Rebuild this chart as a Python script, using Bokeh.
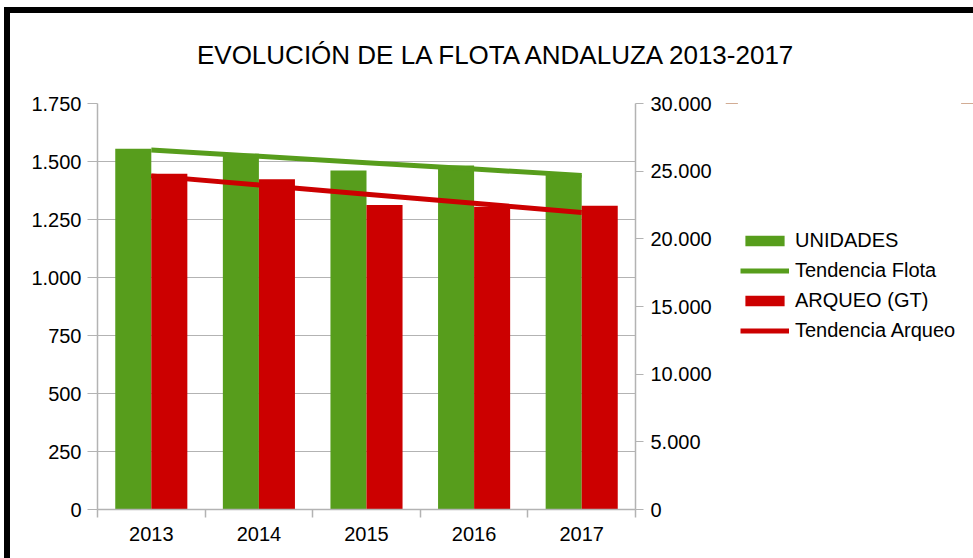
import numpy as np
from bokeh.plotting import figure
from bokeh.layouts import column, row
from bokeh.models import (Range1d, LinearAxis, FixedTicker, Legend,
                          LegendItem, Label, ColumnDataSource)
from bokeh.transform import dodge
from bokeh.embed import file_html
from bokeh.resources import INLINE

# ---------------- data ----------------
years = ["2013", "2014", "2015", "2016", "2017"]
unidades = [1555, 1533, 1461, 1483, 1443]
arqueo_gt = [24800, 24400, 22500, 22370, 22440]

left_ticks = [0, 250, 500, 750, 1000, 1250, 1500, 1750]
left_labels = ["0", "250", "500", "750", "1.000", "1.250", "1.500", "1.750"]
right_ticks = [0, 5000, 10000, 15000, 20000, 25000, 30000]
right_labels = ["0", "5.000", "10.000", "15.000", "20.000", "25.000", "30.000"]

title_text = "EVOLUCIÓN DE LA FLOTA ANDALUZA 2013-2017"
series_names = ["UNIDADES", "Tendencia Flota", "ARQUEO (GT)", "Tendencia Arqueo"]

# category index positions
idx = np.arange(len(years))
# linear trend lines (least squares on the series)
trend_flota = np.polyval(np.polyfit(idx, unidades, 1), idx)
trend_arqueo = np.polyval(np.polyfit(idx, arqueo_gt, 1), idx)

src = ColumnDataSource(dict(i=idx, year=years, u=unidades, a=arqueo_gt,
                            tf=trend_flota, ta=trend_arqueo))

GREEN = "#579d1c"
RED = "#cc0000"
GRID = "#b3b3b3"
FONT = "Liberation Sans"

# ---------------- title strip ----------------
pt = figure(width=963, height=75, x_range=Range1d(0, 1), y_range=Range1d(0, 1),
            x_axis_type=None, y_axis_type=None, output_backend="svg",
            toolbar_location=None, min_border=0)
pt.outline_line_color = None
pt.background_fill_color = "white"
pt.border_fill_color = "white"
pt.add_layout(Label(x=487.5, y=33.3, x_units="screen", y_units="screen",
                    text=title_text, text_align="center",
                    text_baseline="alphabetic", text_font=FONT,
                    text_font_size="26px", text_color="black"))

# ---------------- main chart ----------------
p = figure(width=715, height=470, x_range=Range1d(-0.5, len(years) - 0.5),
           y_range=Range1d(0, 1750), output_backend="svg", toolbar_location=None,
           min_border_left=87, min_border_right=90, min_border_top=15,
           min_border_bottom=49)
p.extra_y_ranges = {"gt": Range1d(0, 30000)}
p.outline_line_color = None
p.background_fill_color = "white"
p.border_fill_color = "white"

p.xgrid.grid_line_color = None
p.ygrid.grid_line_color = GRID
p.ygrid.grid_line_width = 1

ya = p.yaxis[0]
ya.ticker = FixedTicker(ticks=left_ticks)
ya.major_label_overrides = {t: l for t, l in zip(left_ticks, left_labels)}
ya.axis_line_color = GRID
ya.axis_line_width = 1.5
ya.major_tick_line_color = GRID
ya.major_tick_in = 0
ya.major_tick_out = 10
ya.minor_tick_line_color = None
ya.major_label_standoff = 6
ya.major_label_text_font = FONT
ya.major_label_text_font_size = "20px"
ya.major_label_text_color = "black"

ra = LinearAxis(y_range_name="gt", ticker=FixedTicker(ticks=right_ticks))
ra.major_label_overrides = {t: l for t, l in zip(right_ticks, right_labels)}
ra.axis_line_color = GRID
ra.axis_line_width = 1.5
ra.major_tick_line_color = GRID
ra.major_tick_in = 0
ra.major_tick_out = 8
ra.minor_tick_line_color = None
ra.major_label_standoff = 7
ra.major_label_text_font = FONT
ra.major_label_text_font_size = "20px"
ra.major_label_text_color = "black"
p.add_layout(ra, "right")

xa = p.xaxis[0]
xa.ticker = FixedTicker(ticks=list(idx),
                        minor_ticks=[k - 0.5 for k in range(len(years) + 1)])
xa.major_label_overrides = {int(k): y for k, y in zip(idx, years)}
xa.axis_line_color = GRID
xa.axis_line_width = 1.5
xa.major_tick_line_color = None
xa.major_tick_in = 0
xa.major_tick_out = 0
xa.minor_tick_line_color = GRID
xa.minor_tick_line_width = 1.5
xa.minor_tick_in = 0
xa.minor_tick_out = 8
xa.major_label_standoff = 9
xa.major_label_text_font = FONT
xa.major_label_text_font_size = "20px"
xa.major_label_text_color = "black"

gbar = p.vbar(x=dodge("i", -0.1675), top="u", width=0.335,
              source=src, fill_color=GREEN, line_color=None)
rbar = p.vbar(x=dodge("i", 0.1675), top="a", width=0.335,
              source=src, fill_color=RED, line_color=None, y_range_name="gt")
gl = p.line(x="i", y="tf", source=src, line_color=GREEN, line_width=5)
rl = p.line(x="i", y="ta", source=src, line_color=RED, line_width=5,
            y_range_name="gt")

# ---------------- legend strip ----------------
# proxy renderers use the same data but lie outside this strip's visible range,
# so only their legend swatches are drawn
pl = figure(width=248, height=470, x_range=Range1d(0, 1), y_range=Range1d(-2, -1),
            x_axis_type=None, y_axis_type=None, output_backend="svg",
            toolbar_location=None, min_border=0)
pl.outline_line_color = None
pl.background_fill_color = "white"
pl.border_fill_color = "white"
lg_gbar = pl.vbar(x="i", top="u", width=0.1, source=src,
                  fill_color=GREEN, line_color=None)
lg_gl = pl.line(x="i", y="tf", source=src, line_color=GREEN, line_width=5)
lg_rbar = pl.vbar(x="i", top="a", width=0.1, source=src,
                  fill_color=RED, line_color=None)
lg_rl = pl.line(x="i", y="ta", source=src, line_color=RED, line_width=5)

legend = Legend(items=[LegendItem(label=series_names[0], renderers=[lg_gbar]),
                       LegendItem(label=series_names[1], renderers=[lg_gl]),
                       LegendItem(label=series_names[2], renderers=[lg_rbar]),
                       LegendItem(label=series_names[3], renderers=[lg_rl])],
                location=(15, 164))
legend.glyph_width = 49
legend.glyph_height = 13
legend.label_height = 30
legend.spacing = 0
legend.padding = 0
legend.margin = 0
legend.label_standoff = 6
legend.border_line_color = None
legend.background_fill_alpha = 0
legend.label_text_font = FONT
legend.label_text_font_size = "20px"
legend.label_text_color = "black"
pl.add_layout(legend)

layout = column(pt, row(p, pl))
layout.styles = {"border-left": "6px solid black", "border-top": "6px solid black",
                 "margin-left": "4px", "margin-top": "7px"}

open("out.html", "w").write(file_html(layout, INLINE))
